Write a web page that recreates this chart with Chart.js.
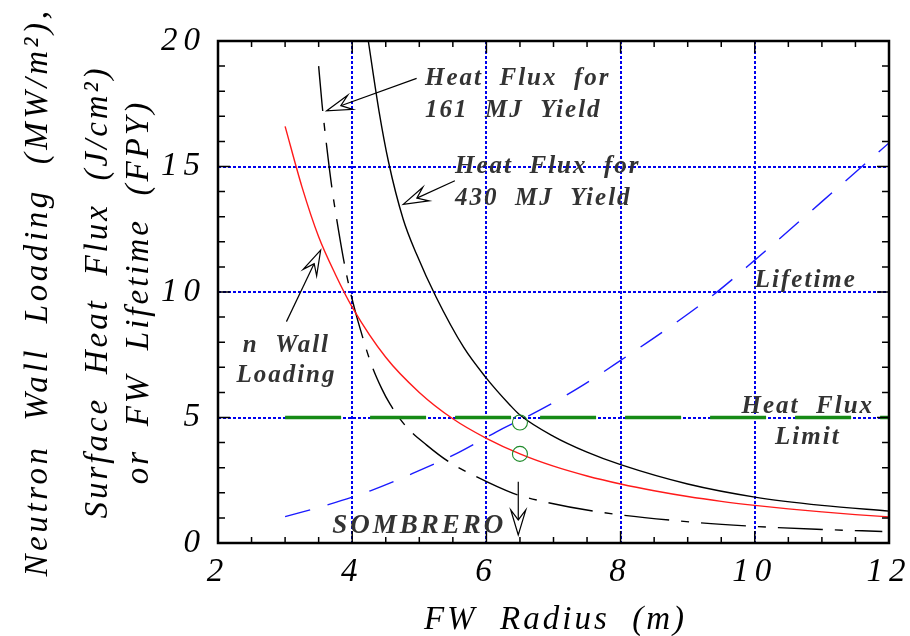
<!DOCTYPE html>
<html>
<head>
<meta charset="utf-8">
<script src="https://cdn.jsdelivr.net/npm/chart.js@4/dist/chart.umd.min.js"></script>
<style>
  html, body { margin: 0; padding: 0; background: #fff; }
  #wrap { width: 910px; height: 636px; }
</style>
</head>
<body>
<div id="wrap"><canvas id="c" width="910" height="636"></canvas></div>
<script>
// --- data (FW radius in m) ---
const wallR = [3, 3.25, 3.5, 3.75, 4, 4.5, 5, 5.5, 6, 6.5, 7, 7.5, 8, 8.5, 9, 9.5, 10, 10.5, 11, 11.5, 12];
const wallLoad = [16.6, 14.2, 12.2, 10.7, 9.4, 7.4, 6.0, 4.95, 4.17, 3.55, 3.06, 2.67, 2.35, 2.08, 1.85, 1.66, 1.50, 1.36, 1.24, 1.13, 1.04];

const r430 = [4.24, 4.4, 4.54, 4.76, 4.96, 5.25, 5.66, 5.99, 6.35, 6.5, 7.0, 7.5, 8, 9, 10, 11, 12];
const flux430 = [20, 17.2, 15.2, 12.9, 11.5, 9.8, 7.8, 6.6, 5.5, 5.1, 4.25, 3.62, 3.12, 2.35, 1.83, 1.5, 1.27];

const r161 = [3.5, 3.55, 3.62, 3.7, 3.8, 3.9, 4.0, 4.09, 4.28, 4.44, 4.56, 4.8, 5.11, 5.46, 5.8, 6.4, 6.8, 7.64, 8.9, 10, 11, 11.9];
const flux161 = [19.0, 17.5, 15.8, 14.1, 12.4, 10.9, 9.7, 8.8, 7.16, 6.15, 5.55, 4.65, 3.9, 3.2, 2.71, 1.98, 1.68, 1.25, 0.87, 0.66, 0.54, 0.46];

const lifeR = [3, 3.62, 4.27, 4.91, 5.56, 6.15, 6.8, 7.44, 8.07, 8.74, 9.38, 10, 11, 12];
const lifetime = [1.05, 1.51, 2.08, 2.78, 3.57, 4.43, 5.30, 6.29, 7.40, 8.62, 9.88, 11.27, 13.6, 15.94];

const limitR = [3, 12];
const limitFlux = [5, 5];

const pointR = [6.5, 6.5];
const pointVal = [4.8, 3.55];

// annotation text and arrows, placed in data units
const notes = [
  { t: 'Heat  Flux  for', x: 5.085, y: 18.25, a: 'left' },
  { t: '161  MJ  Yield',  x: 5.085, y: 16.97, a: 'left' },
  { t: 'Heat  Flux  for', x: 5.532, y: 14.74, a: 'left' },
  { t: '430  MJ  Yield',  x: 5.532, y: 13.47, a: 'left' },
  { t: 'n  Wall',         x: 3.02,  y: 7.61,  a: 'center' },
  { t: 'Loading',         x: 3.02,  y: 6.41,  a: 'center' },
  { t: 'Lifetime',        x: 10.0,  y: 10.2,  a: 'left' },
  { t: 'Heat  Flux',      x: 10.79, y: 5.18,  a: 'center' },
  { t: 'Limit',           x: 10.79, y: 3.94,  a: 'center' },
  { t: 'SOMBRERO',        x: 5.0,   y: 0.40,  a: 'center', big: true },
];
const arrows = [
  { from: [4.96, 18.51], to: [3.62, 17.22] },
  { from: [5.53, 14.43], to: [4.76, 13.49] },
  { from: [3.02, 8.82],  to: [3.53, 11.67] },
  { from: [6.475, 2.44], to: [6.475, 0.32] },
];

const SERIF = "'Liberation Serif', 'Times New Roman', serif";

function pts(xs, ys) {
  return xs.map((x, i) => ({ x: x, y: ys[i] }));
}

function drawArrow(ctx, x1, y1, x2, y2) {
  const ang = Math.atan2(y2 - y1, x2 - x1);
  const ux = Math.cos(ang), uy = Math.sin(ang);
  const head = 25, half = 7.5, notch = 15;
  const bx = x2 - ux * head, by = y2 - uy * head;
  const nx = x2 - ux * notch, ny = y2 - uy * notch;
  ctx.beginPath();
  ctx.moveTo(x1, y1);
  ctx.lineTo(nx, ny);
  ctx.stroke();
  ctx.beginPath();
  ctx.moveTo(x2, y2);
  ctx.lineTo(bx - uy * half, by + ux * half);
  ctx.lineTo(nx, ny);
  ctx.lineTo(bx + uy * half, by - ux * half);
  ctx.closePath();
  ctx.fillStyle = '#fff';
  ctx.fill();
  ctx.stroke();
}

const decor = {
  id: 'decor',
  beforeUpdate(chart) { chart.ctx.letterSpacing = '6px'; },
  beforeDraw(chart) { chart.ctx.letterSpacing = '6px'; },
  beforeDatasetsDraw(chart) {
    const { ctx, chartArea: a, scales: { x, y } } = chart;
    ctx.save();
    ctx.strokeStyle = '#0000ee';
    ctx.lineWidth = 2;
    ctx.setLineDash([3, 2]);
    x.ticks.forEach(t => {
      if (t.value <= x.min || t.value >= x.max) return;
      const px = Math.round(x.getPixelForValue(t.value));
      ctx.beginPath(); ctx.moveTo(px, a.top); ctx.lineTo(px, a.bottom); ctx.stroke();
    });
    y.ticks.forEach(t => {
      if (t.value <= y.min || t.value >= y.max) return;
      const py = Math.round(y.getPixelForValue(t.value));
      ctx.beginPath(); ctx.moveTo(a.left, py); ctx.lineTo(a.right, py); ctx.stroke();
    });
    ctx.restore();
  },
  afterDatasetsDraw(chart) {
    const { ctx, chartArea: a, scales: { x, y } } = chart;
    ctx.save();
    ctx.strokeStyle = '#000';
    ctx.lineWidth = 1.5;
    // minor + major ticks, inside, all four sides
    for (let v = x.min; v <= x.max + 1e-9; v += 0.5) {
      const px = x.getPixelForValue(v);
      const len = Math.abs(v % 2) < 1e-9 ? 12 : 6;
      ctx.beginPath();
      ctx.moveTo(px, a.bottom); ctx.lineTo(px, a.bottom - len);
      ctx.moveTo(px, a.top); ctx.lineTo(px, a.top + len);
      ctx.stroke();
    }
    for (let v = y.min; v <= y.max + 1e-9; v += 1) {
      const py = y.getPixelForValue(v);
      const len = Math.abs(v % 5) < 1e-9 ? 12 : 7;
      ctx.beginPath();
      ctx.moveTo(a.left, py); ctx.lineTo(a.left + len, py);
      ctx.moveTo(a.right, py); ctx.lineTo(a.right - len, py);
      ctx.stroke();
    }
    ctx.lineWidth = 2.5;
    ctx.strokeRect(a.left, a.top, a.right - a.left, a.bottom - a.top);
    ctx.restore();
  },
  afterDraw(chart) {
    const { ctx, chartArea: a, scales: { x, y } } = chart;
    ctx.save();
    // axis titles
    ctx.fillStyle = '#000';
    ctx.font = 'italic 33px ' + SERIF;
    ctx.letterSpacing = '3px';
    ctx.textAlign = 'center';
    ctx.textBaseline = 'alphabetic';
    ctx.fillText('FW  Radius  (m)', (a.left + a.right) / 2 + 2, 629);

    const cy = (a.top + a.bottom) / 2;
    const yLines = [
      ['Neutron  Wall  Loading  (MW/m\u00B2),', 47, '3.6px'],
      ['Surface  Heat  Flux  (J/cm\u00B2)', 107, '3px'],
      ['or  FW  Lifetime  (FPY)', 148, '3px'],
    ];
    yLines.forEach(([s, bx, sp]) => {
      ctx.save();
      ctx.letterSpacing = sp;
      ctx.translate(bx, cy);
      ctx.rotate(-Math.PI / 2);
      ctx.fillText(s, 0, 0);
      ctx.restore();
    });

    // annotations
    ctx.fillStyle = '#333';
    notes.forEach(n => {
      ctx.font = 'italic bold ' + (n.big ? 27 : 25) + 'px ' + SERIF;
      ctx.letterSpacing = n.big ? '3px' : '2px';
      ctx.textAlign = n.a;
      ctx.fillText(n.t, x.getPixelForValue(n.x), y.getPixelForValue(n.y));
    });

    ctx.strokeStyle = '#000';
    ctx.lineWidth = 1.2;
    arrows.forEach(r => {
      drawArrow(ctx,
        x.getPixelForValue(r.from[0]), y.getPixelForValue(r.from[1]),
        x.getPixelForValue(r.to[0]), y.getPixelForValue(r.to[1]));
    });
    ctx.restore();
    ctx.letterSpacing = '6px';
  }
};

const lineBase = { pointRadius: 0, fill: false, cubicInterpolationMode: 'monotone', borderWidth: 1.4 };

new Chart(document.getElementById('c'), {
  type: 'line',
  data: {
    datasets: [
      Object.assign({}, lineBase, {
        label: 'Heat Flux Limit', data: pts(limitR, limitFlux),
        borderColor: '#168a16', borderWidth: 3.5, borderDash: [56, 29], cubicInterpolationMode: 'default', tension: 0,
      }),
      {
        label: 'Design point', data: pts(pointR, pointVal), showLine: false,
        pointStyle: 'circle', pointRadius: 7.5, pointBorderWidth: 1.1,
        borderColor: '#1f8a2a', backgroundColor: 'rgba(0,0,0,0)', pointBackgroundColor: 'rgba(0,0,0,0)',
      },
      Object.assign({}, lineBase, {
        label: 'n Wall Loading', data: pts(wallR, wallLoad), borderColor: '#ff1a1a',
      }),
      Object.assign({}, lineBase, {
        label: 'Heat Flux for 430 MJ Yield', data: pts(r430, flux430), borderColor: '#000',
      }),
      Object.assign({}, lineBase, {
        label: 'Heat Flux for 161 MJ Yield', data: pts(r161, flux161), borderColor: '#000',
        borderDash: [45, 12, 8, 12],
      }),
      Object.assign({}, lineBase, {
        label: 'Lifetime', data: pts(lifeR, lifetime), borderColor: '#1a1aff',
        borderDash: [26, 18],
      }),
    ]
  },
  options: {
    responsive: false,
    animation: false,
    layout: { padding: { top: 41, right: 21, left: 0, bottom: 0 } },
    plugins: { legend: { display: false }, tooltip: { enabled: false } },
    scales: {
      x: {
        type: 'linear', min: 2, max: 12,
        ticks: { stepSize: 2, padding: 10, color: '#000', maxRotation: 0,
                 font: { family: SERIF, style: 'italic', size: 33 } },
        grid: { display: false, drawTicks: false },
        border: { display: false },
        afterFit(s) { s.height = 93; s.paddingLeft = 0; s.paddingRight = 0; },
      },
      y: {
        type: 'linear', min: 0, max: 20,
        ticks: { stepSize: 5, padding: 12, color: '#000',
                 font: { family: SERIF, style: 'italic', size: 33 } },
        grid: { display: false, drawTicks: false },
        border: { display: false },
        afterFit(s) { s.width = 218; s.paddingTop = 0; s.paddingBottom = 0; },
      }
    }
  },
  plugins: [decor]
});
</script>
</body>
</html>
